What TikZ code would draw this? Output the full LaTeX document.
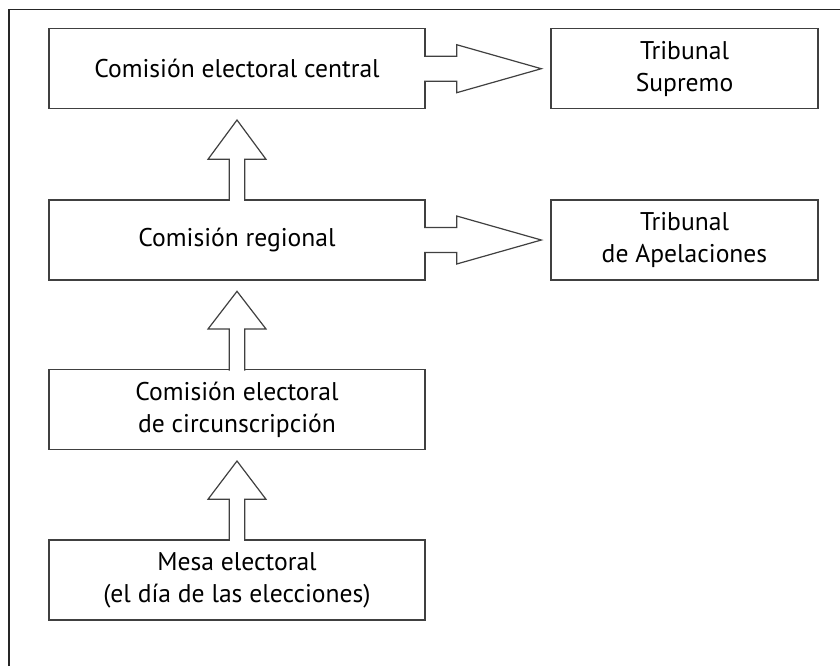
\documentclass[tikz,border=0pt]{standalone}
\usepackage{fontspec}
\setmainfont{PT Sans}
\usetikzlibrary{calc}
\tikzset{
    caja/.style={draw=black!75, line width=0.7pt, fill=white, align=center,
        minimum height=40pt, inner sep=0pt,
        font=\fontsize{12.8}{16}\selectfont},
    flecha/.style={draw=black!75, line width=0.6pt, fill=white, line join=miter}
}
\begin{document}
\begin{tikzpicture}[x=0.5pt, y=-0.5pt]
        \useasboundingbox (0,0) rectangle (840,666);
        \draw[black!85, line width=0.8pt] (9,666) -- (9,9.5) -- (840,9.5);

        \node[caja, minimum width=188pt] (central) at (237,68.7) {Comisión electoral central};
        \node[caja, minimum width=188pt] (regional) at (237,240) {Comisión regional};
        \node[caja, minimum width=188pt] (circ) at (237,409.7) {Comisión electoral\\de circunscripción};
        \node[caja, minimum width=188pt] (mesa) at (237,580) {Mesa electoral\\(el día de las elecciones)};
        \node[caja, minimum width=133.5pt] (supremo) at (684.5,68.7) {Tribunal\\Supremo};
        \node[caja, minimum width=133.5pt] (apel) at (684.5,240) {Tribunal\\de Apelaciones};

        \draw[flecha] ($(regional.north)+(-7.8,1.5)$) -- ++(0,-41.5) -- ++(-21.2,0) -- ($(central.south)+(0,10.6)$)
            -- ($(regional.north)+(29,-40)$) -- ++(-21.2,0) -- ++(0,41.5);
        \draw[flecha] ($(circ.north)+(-7.8,1.5)$) -- ++(0,-41.5) -- ++(-21.2,0) -- ($(regional.south)+(0,10.6)$)
            -- ($(circ.north)+(29,-40)$) -- ++(-21.2,0) -- ++(0,41.5);
        \draw[flecha] ($(mesa.north)+(-7.8,1.5)$) -- ++(0,-41.5) -- ++(-21.2,0) -- ($(circ.south)+(0,10.6)$)
            -- ($(mesa.north)+(29,-40)$) -- ++(-21.2,0) -- ++(0,41.5);

        \draw[flecha] ($(central.east)+(-1.5,-12.5)$) -- ++(32.5,0) -- ++(0,-11.5) -- ($(supremo.west)+(-9,0)$)
            -- ($(central.east)+(31,24)$) -- ++(0,-11.5) -- ++(-32.5,0);
        \draw[flecha] ($(regional.east)+(-1.5,-12.5)$) -- ++(32.5,0) -- ++(0,-11.5) -- ($(apel.west)+(-9,0)$)
            -- ($(regional.east)+(31,24)$) -- ++(0,-11.5) -- ++(-32.5,0);
\end{tikzpicture}
\end{document}
